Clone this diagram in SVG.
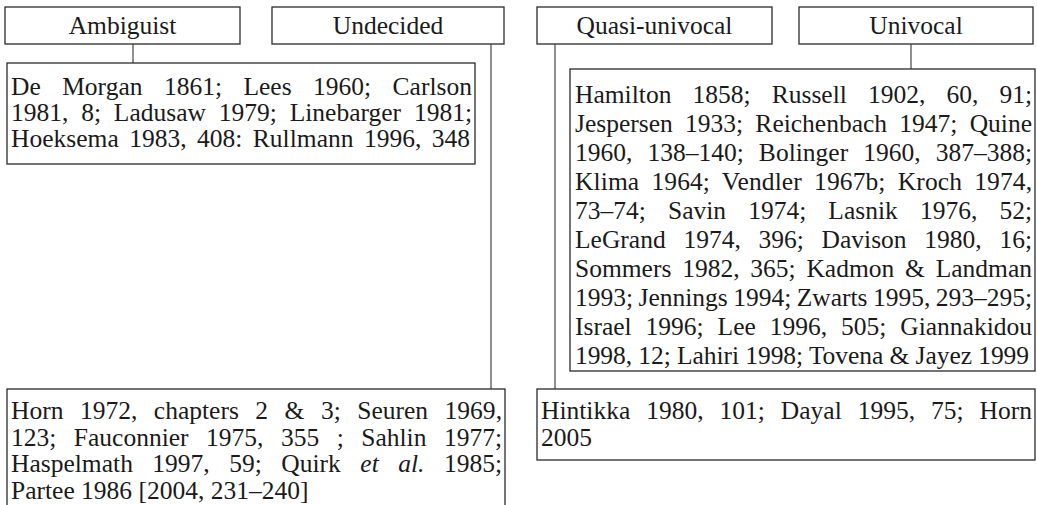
<svg xmlns="http://www.w3.org/2000/svg" width="1037" height="505" viewBox="0 0 1037 505">
<style>
.box{fill:#fff;stroke:#2a2a2a;stroke-width:1.3}
.con{stroke:#555;stroke-width:1.3;fill:none}
</style>
<rect x="0" y="0" width="1037" height="505" fill="#fff"/>
<g id="connectors">
<line class="con" x1="133" y1="44" x2="133" y2="63"/>
<line class="con" x1="491" y1="44" x2="491" y2="389"/>
<line class="con" x1="555" y1="44" x2="555" y2="389"/>
<line class="con" x1="911" y1="44" x2="911" y2="69"/>
</g>
<g fill="#1a1a1a">
<g id="ambiguist">
<rect class="box" x="5" y="7" width="235" height="37"/>
<text font-family="Liberation Serif" font-size="25.5" x="122.5" y="34" text-anchor="middle">Ambiguist</text>
</g>
<g id="undecided">
<rect class="box" x="272" y="7" width="232" height="37"/>
<text font-family="Liberation Serif" font-size="25.5" x="388" y="34" text-anchor="middle">Undecided</text>
</g>
<g id="quasi-univocal">
<rect class="box" x="537" y="7" width="235" height="37"/>
<text font-family="Liberation Serif" font-size="25.5" x="654.5" y="34" text-anchor="middle">Quasi-univocal</text>
</g>
<g id="univocal">
<rect class="box" x="799" y="7" width="234" height="37"/>
<text font-family="Liberation Serif" font-size="25.5" x="916" y="34" text-anchor="middle">Univocal</text>
</g>
<g id="ambiguist-refs">
<rect class="box" x="7" y="63" width="468" height="101"/>
<text font-family="Liberation Serif" font-size="25.5" x="11" y="95" word-spacing="15" textLength="461" lengthAdjust="spacing">De Morgan 1861; Lees 1960; Carlson</text>
<text font-family="Liberation Serif" font-size="25.5" x="11" y="121" word-spacing="6.4" textLength="461" lengthAdjust="spacing">1981, 8; Ladusaw 1979; Linebarger 1981;</text>
<text font-family="Liberation Serif" font-size="25.5" x="11" y="147" word-spacing="4" textLength="459" lengthAdjust="spacing">Hoeksema 1983, 408: Rullmann 1996, 348</text>
</g>
<g id="univocal-refs">
<rect class="box" x="570" y="69" width="465" height="302"/>
<text font-family="Liberation Serif" font-size="25.5" x="575" y="103" word-spacing="14.7" textLength="457" lengthAdjust="spacing">Hamilton 1858; Russell 1902, 60, 91;</text>
<text font-family="Liberation Serif" font-size="25.5" x="575" y="132" word-spacing="5.9" textLength="457" lengthAdjust="spacing">Jespersen 1933; Reichenbach 1947; Quine</text>
<text font-family="Liberation Serif" font-size="25.5" x="575" y="161" word-spacing="8.7" textLength="457" lengthAdjust="spacing">1960, 138–140; Bolinger 1960, 387–388;</text>
<text font-family="Liberation Serif" font-size="25.5" x="575" y="190" word-spacing="5.8" textLength="457" lengthAdjust="spacing">Klima 1964; Vendler 1967b; Kroch 1974,</text>
<text font-family="Liberation Serif" font-size="25.5" x="575" y="219" word-spacing="15.7" textLength="457" lengthAdjust="spacing">73–74; Savin 1974; Lasnik 1976, 52;</text>
<text font-family="Liberation Serif" font-size="25.5" x="575" y="248" word-spacing="11.3" textLength="457" lengthAdjust="spacing">LeGrand 1974, 396; Davison 1980, 16;</text>
<text font-family="Liberation Serif" font-size="25.5" x="575" y="277" word-spacing="4.4" textLength="457" lengthAdjust="spacing">Sommers 1982, 365; Kadmon &amp; Landman</text>
<text font-family="Liberation Serif" font-size="25.5" x="575" y="306" word-spacing="-1" textLength="457" lengthAdjust="spacing">1993; Jennings 1994; Zwarts 1995, 293–295;</text>
<text font-family="Liberation Serif" font-size="25.5" x="575" y="335" word-spacing="7.5" textLength="457" lengthAdjust="spacing">Israel 1996; Lee 1996, 505; Giannakidou</text>
<text font-family="Liberation Serif" font-size="25.5" x="575" y="364" textLength="454" lengthAdjust="spacing">1998, 12; Lahiri 1998; Tovena &amp; Jayez 1999</text>
</g>
<g id="undecided-refs">
<rect class="box" x="7" y="389" width="498" height="130"/>
<text font-family="Liberation Serif" font-size="25.5" x="11" y="419" word-spacing="10.1" textLength="491" lengthAdjust="spacing">Horn 1972, chapters 2 &amp; 3; Seuren 1969,</text>
<text font-family="Liberation Serif" font-size="25.5" x="11" y="445.5" word-spacing="11.1" textLength="491" lengthAdjust="spacing">123; Fauconnier 1975, 355 ; Sahlin 1977;</text>
<text font-family="Liberation Serif" font-size="25.5" x="11" y="472" word-spacing="13.1" textLength="491" lengthAdjust="spacing">Haspelmath 1997, 59; Quirk <tspan font-style="italic">et al.</tspan> 1985;</text>
<text font-family="Liberation Serif" font-size="25.5" x="11" y="498.5">Partee 1986 [2004, 231–240]</text>
</g>
<g id="quasi-refs">
<rect class="box" x="537" y="389" width="498" height="71"/>
<text font-family="Liberation Serif" font-size="25.5" x="541" y="419" word-spacing="9.6" textLength="491" lengthAdjust="spacing">Hintikka 1980, 101; Dayal 1995, 75; Horn</text>
<text font-family="Liberation Serif" font-size="25.5" x="541" y="446">2005</text>
</g>
</g>
</svg>
